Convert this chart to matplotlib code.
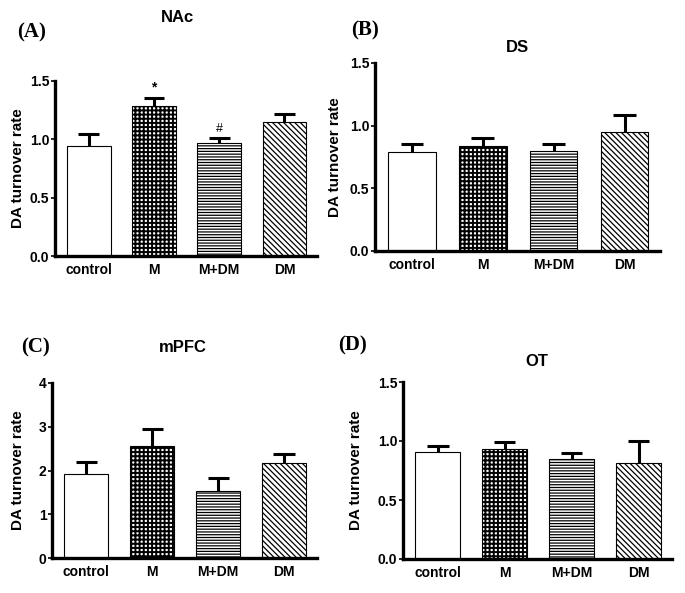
import matplotlib
matplotlib.use("Agg")
import matplotlib.pyplot as plt

plt.rcParams["font.family"] = ["Liberation Sans", "DejaVu Sans"]
plt.rcParams["hatch.linewidth"] = 0.9

groups = ["control", "M", "M+DM", "DM"]

nac_mean = [0.94, 1.285, 0.965, 1.15]
nac_err = [0.11, 0.07, 0.05, 0.07]
ds_mean = [0.79, 0.84, 0.80, 0.95]
ds_err = [0.065, 0.06, 0.055, 0.135]
mpfc_mean = [1.92, 2.56, 1.53, 2.18]
mpfc_err = [0.27, 0.39, 0.31, 0.19]
ot_mean = [0.91, 0.93, 0.85, 0.815]
ot_err = [0.05, 0.06, 0.05, 0.185]

hatches = [None, "++++", "------", "\\\\\\\\\\\\"]
hatch_lw = [0.9, 1.4, 0.9, 0.9]

W, H = 685, 593
fig = plt.figure(figsize=(W / 100, H / 100), dpi=100)


def px_axes(l, r, top, bot):
    return fig.add_axes([l / W, 1 - bot / H, (r - l) / W, (bot - top) / H])


def panel(ax, means, errs, ymax, yticks, yfmt, ylab_x):
    x = list(range(len(groups)))
    for i in x:
        with plt.rc_context({"hatch.linewidth": hatch_lw[i]}):
            b = ax.bar(i, means[i], width=0.67, color="white", edgecolor="black",
                       linewidth=0.8, hatch=hatches[i], zorder=2)
        for p in b:
            if hasattr(p, "set_hatch_linewidth"):
                p.set_hatch_linewidth(hatch_lw[i])
    tops = [m + e for m, e in zip(means, errs)]
    ax.vlines(x, means, tops, color="black", linewidth=2.2, zorder=3)
    ax.hlines(tops, [i - 0.16 for i in x], [i + 0.16 for i in x],
              color="black", linewidth=2.2, zorder=3)
    ax.set_xlim(-0.52, 3.5)
    ax.set_ylim(0, ymax)
    ax.set_yticks(yticks)
    ax.set_yticklabels([yfmt.format(v) for v in yticks], fontsize=10,
                       fontweight="bold")
    ax.set_xticks(x)
    ax.set_xticklabels(groups, fontsize=10, fontweight="bold")
    ax.tick_params(axis="x", length=0, pad=5)
    ax.tick_params(axis="y", length=3, width=1.2, pad=1)
    for s in ("top", "right"):
        ax.spines[s].set_visible(False)
    for s in ("left", "bottom"):
        ax.spines[s].set_linewidth(2.4)
    ax.set_ylabel("DA turnover rate", fontsize=11, fontweight="bold")
    ax.yaxis.set_label_coords(ylab_x, 0.5)


axA = px_axes(55, 317, 81, 256)
panel(axA, nac_mean, nac_err, 1.5, [0.0, 0.5, 1.0, 1.5], "{:.1f}", -0.115)
axA.text(1, nac_mean[1] + nac_err[1] + 0.03, "*", ha="center", va="bottom",
         fontsize=10, fontweight="bold")
axA.text(2, nac_mean[2] + nac_err[2] + 0.02, "#", ha="center", va="bottom",
         fontsize=9)

axB = px_axes(375, 660, 63, 251)
panel(axB, ds_mean, ds_err, 1.5, [0.0, 0.5, 1.0, 1.5], "{:.1f}", -0.115)

axC = px_axes(52, 317, 383, 558)
panel(axC, mpfc_mean, mpfc_err, 4, [0, 1, 2, 3, 4], "{:d}", -0.10)

axD = px_axes(403, 672, 382, 559)
panel(axD, ot_mean, ot_err, 1.5, [0.0, 0.5, 1.0, 1.5], "{:.1f}", -0.147)

# titles
for txt, x, y in [("NAc", 177, 17), ("DS", 517, 48), ("mPFC", 183, 347), ("OT", 537, 362)]:
    fig.text(x / W, 1 - y / H, txt, ha="center", va="center", fontsize=12,
             fontweight="bold")

# panel letters
for txt, x, y in [("(A)", 32, 32), ("(B)", 365, 30), ("(C)", 35, 347), ("(D)", 353, 345)]:
    fig.text(x / W, 1 - y / H, txt, ha="center", va="center", fontsize=15,
             fontweight="bold", family="Liberation Serif")

fig.savefig("out.png", dpi=100)
